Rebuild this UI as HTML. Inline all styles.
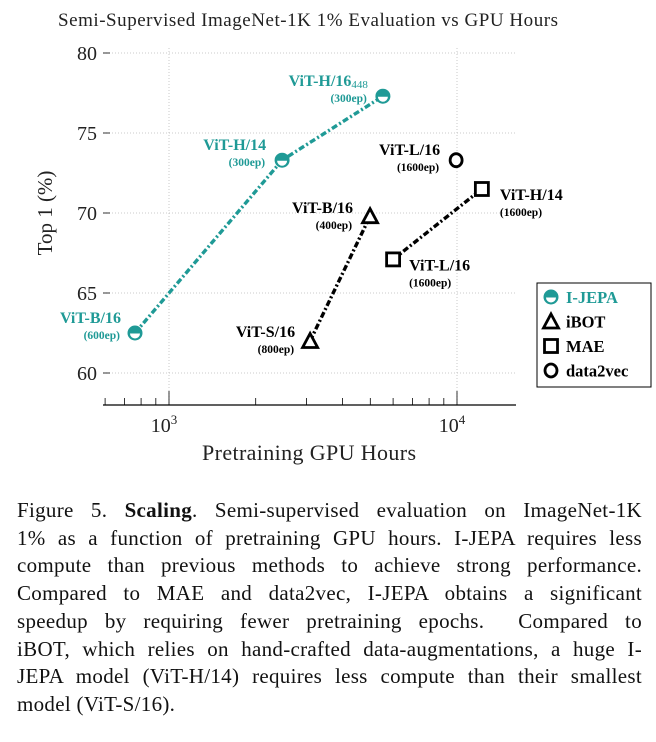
<!DOCTYPE html>
<html><head><meta charset="utf-8">
<style>
body{margin:0;background:#fff;width:656px;height:742px;overflow:hidden;font-family:"Liberation Serif",serif;}
#cap{position:absolute;left:17px;top:497px;width:625px;font-size:21px;letter-spacing:0.3px;line-height:27.7px;color:#111;}
#cap div{text-align:justify;text-align-last:justify;white-space:nowrap;}
#cap div.last{text-align-last:left;}
</style></head><body>
<svg id="chart" width="656" height="490" style="position:absolute;left:0;top:0" font-family="Liberation Serif, serif">
<text x="308" y="26" text-anchor="middle" font-size="19" fill="#222" textLength="500">Semi-Supervised ImageNet-1K 1% Evaluation vs GPU Hours</text>
<g id="grid"></g><g id="axes"></g><g id="series"></g>
<text transform="translate(52,213) rotate(-90)" text-anchor="middle" font-size="21" fill="#222">Top 1 (%)</text>
<text x="309" y="460" text-anchor="middle" font-size="22" fill="#222" textLength="214">Pretraining GPU Hours</text>
<g>
<rect x="537" y="283" width="114" height="104" fill="#fff" stroke="#000" stroke-width="1"/>
<g id="legend-items"></g>
</g>
</svg>
<div id="cap">
<div>Figure 5. <b>Scaling</b>. Semi-supervised evaluation on ImageNet-1K</div>
<div>1% as a function of pretraining GPU hours. I-JEPA requires less</div>
<div>compute than previous methods to achieve strong performance.</div>
<div>Compared to MAE and data2vec, I-JEPA obtains a significant</div>
<div>speedup by requiring fewer pretraining epochs. &nbsp;Compared to</div>
<div>iBOT, which relies on hand-crafted data-augmentations, a huge I-</div>
<div>JEPA model (ViT-H/14) requires less compute than their smallest</div>
<div class="last">model (ViT-S/16).</div>
</div>
<script>
const seriesNames=["I-JEPA","iBOT","MAE","data2vec"];
const ijepaHours=[762,2470,5530];
const ijepaTop1=[62.5,73.3,77.3];
const ijepaLabels=["ViT-B/16","ViT-H/14","ViT-H/16"];
const ijepaEpochs=["(600ep)","(300ep)","(300ep)"];
const ibotHours=[3090,4990];
const ibotTop1=[62.0,69.8];
const ibotLabels=["ViT-S/16","ViT-B/16"];
const ibotEpochs=["(800ep)","(400ep)"];
const maeHours=[6000,12200];
const maeTop1=[67.1,71.5];
const maeLabels=["ViT-L/16","ViT-H/14"];
const maeEpochs=["(1600ep)","(1600ep)"];
const d2vHours=[9930];
const d2vTop1=[73.3];
const d2vLabels=["ViT-L/16"];
const d2vEpochs=["(1600ep)"];
const yTicks=[60,65,70,75,80];
const xMajor=[1000,10000];

const NS="http://www.w3.org/2000/svg";
const TEAL="#1f9a96";
const X=v=>169+288*Math.log10(v/1000);
const Y=v=>53+(80-v)*16;
function mk(tag,attrs,parent){const e=document.createElementNS(NS,tag);for(const k in attrs)e.setAttribute(k,attrs[k]);parent.appendChild(e);return e;}
const grid=document.getElementById('grid'),axes=document.getElementById('axes'),ser=document.getElementById('series');
yTicks.forEach(t=>{
 const g=mk('line',{x1:103,x2:516,y1:Y(t),y2:Y(t),stroke:'#bbb','stroke-width':0.8,'stroke-dasharray':'1,2'},grid);
 
 
 mk('line',{x1:103,x2:110,y1:Y(t),y2:Y(t),stroke:'#000','stroke-width':0.8},axes);
 const l=mk('text',{x:97,y:Y(t)+7,'text-anchor':'end','font-size':20,fill:'#222'},axes);
 l.textContent=t;
 
 
});
xMajor.forEach(t=>{
 const g=mk('line',{x1:X(t),x2:X(t),y1:48,y2:405,stroke:'#bbb','stroke-width':0.8,'stroke-dasharray':'1,2'},grid);
 
 
 const l=mk('text',{x:X(t)-5,y:432,'text-anchor':'middle','font-size':20,fill:'#222'},axes);
 l.innerHTML='10<tspan dy="-8" font-size="13">'+Math.log10(t)+'</tspan>';
 
 
});
mk('line',{x1:103,x2:516,y1:405,y2:405,stroke:'#000','stroke-width':1.2},axes);
for(let v=600;v<=15000;v+=(v<1000?100:v<10000?1000:10000)){
 if(X(v)<103||X(v)>516)continue;
 const major=(v===1000||v===10000);
 mk('line',{x1:X(v),x2:X(v),y1:405,y2:major?391:398,stroke:'#000','stroke-width':0.8},axes);
}
function marker(type,x,y,parent){
 let e;
 if(type==='I-JEPA'){
  e=mk('g',{},parent);
  mk('circle',{cx:x,cy:y,r:7.5,fill:TEAL},e);
  mk('path',{d:`M${x-5},${y+0.5} A5,5 0 0 0 ${x+5},${y+0.5} Z`,fill:'#fff'},e);
 }else if(type==='iBOT'){
  e=mk('path',{d:`M${x},${y-7.5} L${x+7.5},${y+6.5} L${x-7.5},${y+6.5} Z`,fill:'#fff',stroke:'#000','stroke-width':2.8,'stroke-linejoin':'miter'},parent);
 }else if(type==='MAE'){
  e=mk('rect',{x:x-6.5,y:y-6.5,width:13,height:13,fill:'#fff',stroke:'#000','stroke-width':2.8},parent);
 }else{
  e=mk('ellipse',{cx:x,cy:y,rx:6,ry:6.5,fill:'#fff',stroke:'#000','stroke-width':2.8},parent);
 }
 return e;
}
const S=[
 {n:'I-JEPA',h:ijepaHours,t:ijepaTop1,lab:ijepaLabels,ep:ijepaEpochs,c:TEAL,off:[[-14,-10],[-16,-10],[-15,-10]],anchor:['end','end','end']},
 {n:'iBOT',h:ibotHours,t:ibotTop1,lab:ibotLabels,ep:ibotEpochs,c:'#000',off:[[-15,-4],[-17,-3]],anchor:['end','end']},
 {n:'MAE',h:maeHours,t:maeTop1,lab:maeLabels,ep:maeEpochs,c:'#000',off:[[16,11],[18,11]],anchor:['start','start']},
 {n:'data2vec',h:d2vHours,t:d2vTop1,lab:d2vLabels,ep:d2vEpochs,c:'#000',off:[[-16,-5]],anchor:['end']}
];
S.forEach(s=>{
 if(s.h.length>1){
  const pl=mk('polyline',{points:s.h.map((v,i)=>X(v)+','+Y(s.t[i])).join(' '),fill:'none',stroke:s.c,'stroke-width':3.4,'stroke-dasharray':'6,2.5,2,2.5'},ser);
  
  
 }
 s.h.forEach((v,i)=>{
  const x=X(v),y=Y(s.t[i]);
  const m=marker(s.n,x,y,ser);
  
  
  const [dx,dy]=s.off[i];
  const t=mk('text',{x:x+dx,y:y+dy,'text-anchor':s.anchor[i],'font-size':16,'font-weight':'bold',fill:s.c},ser);
  t.textContent=s.lab[i];
  if(s.n==='I-JEPA'&&i===2){const sp=mk('tspan',{'font-size':11,'font-weight':'normal',dy:2},t);sp.textContent='448';}
  
  
  const e=mk('text',{x:x+dx-(s.anchor[i]==='end'?1:0),y:y+dy+16,'text-anchor':s.anchor[i],'font-size':11.5,'font-weight':'bold',fill:s.c},ser);
  e.textContent=s.ep[i];
  
  
 });
});
const li=document.getElementById('legend-items');
seriesNames.forEach((n,i)=>{
 const y=297+i*24.5;
 const m=marker(n,551,y,li);
 
 
 const t=mk('text',{x:566,y:y+6,'font-size':16.5,'font-weight':'bold',fill:n==='I-JEPA'?TEAL:'#000'},li);
 t.textContent=n;
 
 
});
</script>
</body></html>
